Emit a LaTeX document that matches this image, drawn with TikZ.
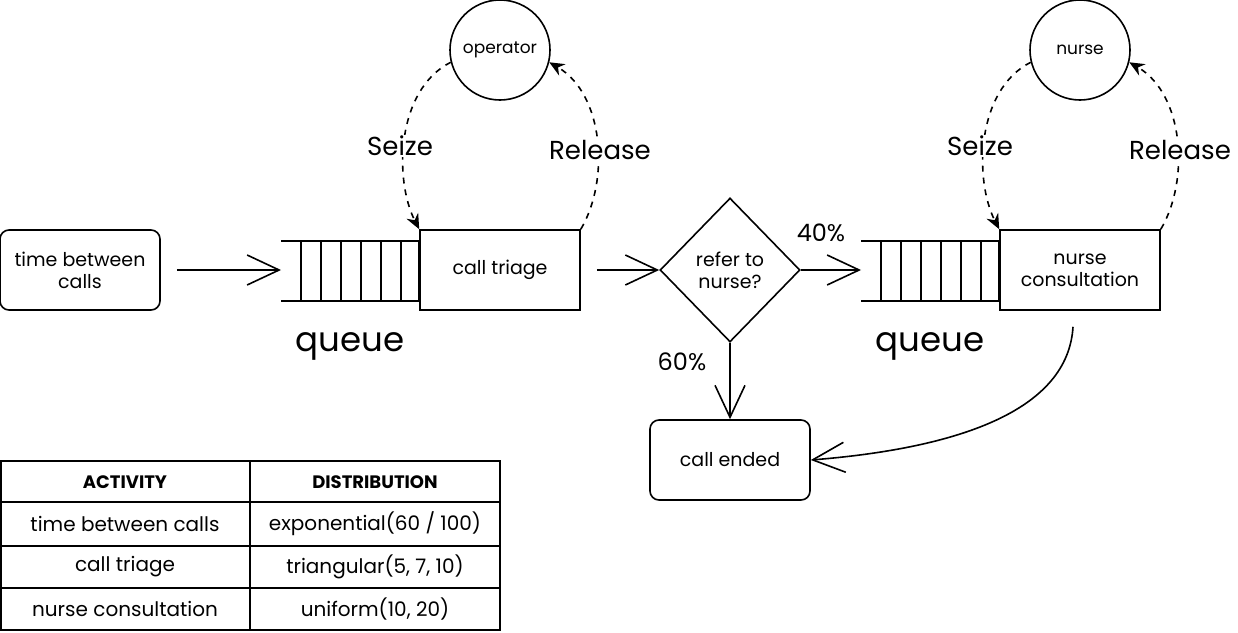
\documentclass[tikz,border=0pt]{standalone}
\usepackage{fontspec}
\setmainfont{Poppins}
\usetikzlibrary{arrows.meta,shapes.geometric}

\tikzset{
  txt/.style={font=\fontsize{19}{22}\selectfont},
  activity/.style={draw,txt,line width=1.6pt,minimum width=160pt,minimum height=80pt,align=center,inner sep=2pt},
  endbox/.style={activity,rounded corners=9pt},
  resource/.style={draw,circle,line width=1.6pt,minimum size=100pt,inner sep=0pt,font=\fontsize{17}{20}\selectfont},
  flow/.style={line width=1.6pt,-{Straight Barb[length=32pt,width=30pt,line width=1.6pt]}},
  claim/.style={line width=1.6pt,dash pattern=on 6pt off 6pt,-{Stealth[length=15pt,width=13pt]}},
  bigtxt/.style={font=\fontsize{26}{30}\selectfont,fill=white,inner sep=1pt},
  qtxt/.style={font=\fontsize{34}{38}\selectfont},
  pct/.style={font=\fontsize{24}{28}\selectfont},
  cell/.style={font=\fontsize{20}{22}\selectfont}
}

\begin{document}
\begin{tikzpicture}[x=1pt,y=-1pt]
        \useasboundingbox (0,0) rectangle (1238,632);
        % process
        \node[endbox] (arrivals) at (80,270) {time between\\calls};
        \node[activity] (triage) at (500,270) {call triage};
        \node[draw,diamond,line width=1.6pt,minimum width=140pt,minimum height=144pt,inner sep=0pt,txt,align=center] (refer) at (730,270) {refer to\\nurse?};
        \node[activity] (consult) at (1080,270) {nurse\\consultation};
        \node[endbox] (ended) at (730,460) {call ended};
        \node[resource] (operator) at (500,50) {operator};
        \node[resource] (nurse) at (1080,50) {nurse};
        \coordinate (q1) at (281,270);
        \coordinate (q2) at (861,270);
        % queues
        \draw[line width=1.6pt] (281,241) -- (420,241) (281,301) -- (420,301);
        \foreach \x in {301,321,...,401} \draw[line width=1.6pt] (\x,241) -- (\x,301);
        \draw[line width=2.6pt] (419,241) -- (419,301);
        \draw[line width=1.6pt] (861,241) -- (1000,241) (861,301) -- (1000,301);
        \foreach \x in {881,901,...,981} \draw[line width=1.6pt] (\x,241) -- (\x,301);
        \draw[line width=2.6pt] (999,241) -- (999,301);
        \node[qtxt] (qlab1) at (350,346) {queue};
        \node[qtxt] (qlab2) at (930,346) {queue};
        % connectors
        \draw[flow] ([xshift=16pt]arrivals.east) -- (q1);
        \draw[flow] ([xshift=16pt]triage.east) -- (refer.west);
        \draw[flow] (refer.east) -- (q2);
        \draw[flow] (refer.south) -- (ended.north);
        \draw[flow] ([xshift=-7pt,yshift=-16pt]consult.south) .. controls (1068,410) and (960,448) .. (ended.east);
        \node[pct] (p40) at (821,233) {40\%};
        \node[pct] (p60) at (682,362) {60\%};
        % seize and release
        \draw[claim] (operator.194) .. controls (396,90) and (394,180) .. (triage.north west);
        \draw[claim] (triage.north east) .. controls (610,180) and (604,94) .. (operator.-14);
        \draw[claim] (nurse.194) .. controls (976,90) and (974,180) .. (consult.north west);
        \draw[claim] (consult.north east) .. controls (1190,180) and (1184,94) .. (nurse.-14);
        \node[bigtxt] (seize1) at (400,146) {Seize};
        \node[bigtxt] (release1) at (600,150) {Release};
        \node[bigtxt] (seize2) at (980,146) {Seize};
        \node[bigtxt] (release2) at (1180,150) {Release};
        % table
        \draw[line width=1.6pt] (1,461) rectangle (500,630);
        \draw[line width=1.6pt] (250,461) -- (250,630);
        \draw[line width=1.6pt] (1,502) -- (500,502) (1,546) -- (500,546) (1,588) -- (500,588);
        \node[font=\fontsize{18}{20}\selectfont\bfseries] (hact) at (125,482) {ACTIVITY};
        \node[font=\fontsize{18}{20}\selectfont\bfseries] (hdist) at (375,482) {DISTRIBUTION};
        \node[cell] (a1) at (125,524) {time between calls};
        \node[cell] (d1) at (375,524) {exponential(60 / 100)};
        \node[cell] (a2) at (125,567) {call triage};
        \node[cell] (d2) at (375,567) {triangular(5, 7, 10)};
        \node[cell] (a3) at (125,609) {nurse consultation};
        \node[cell] (d3) at (375,609) {uniform(10, 20)};
      \end{tikzpicture}
\end{document}
